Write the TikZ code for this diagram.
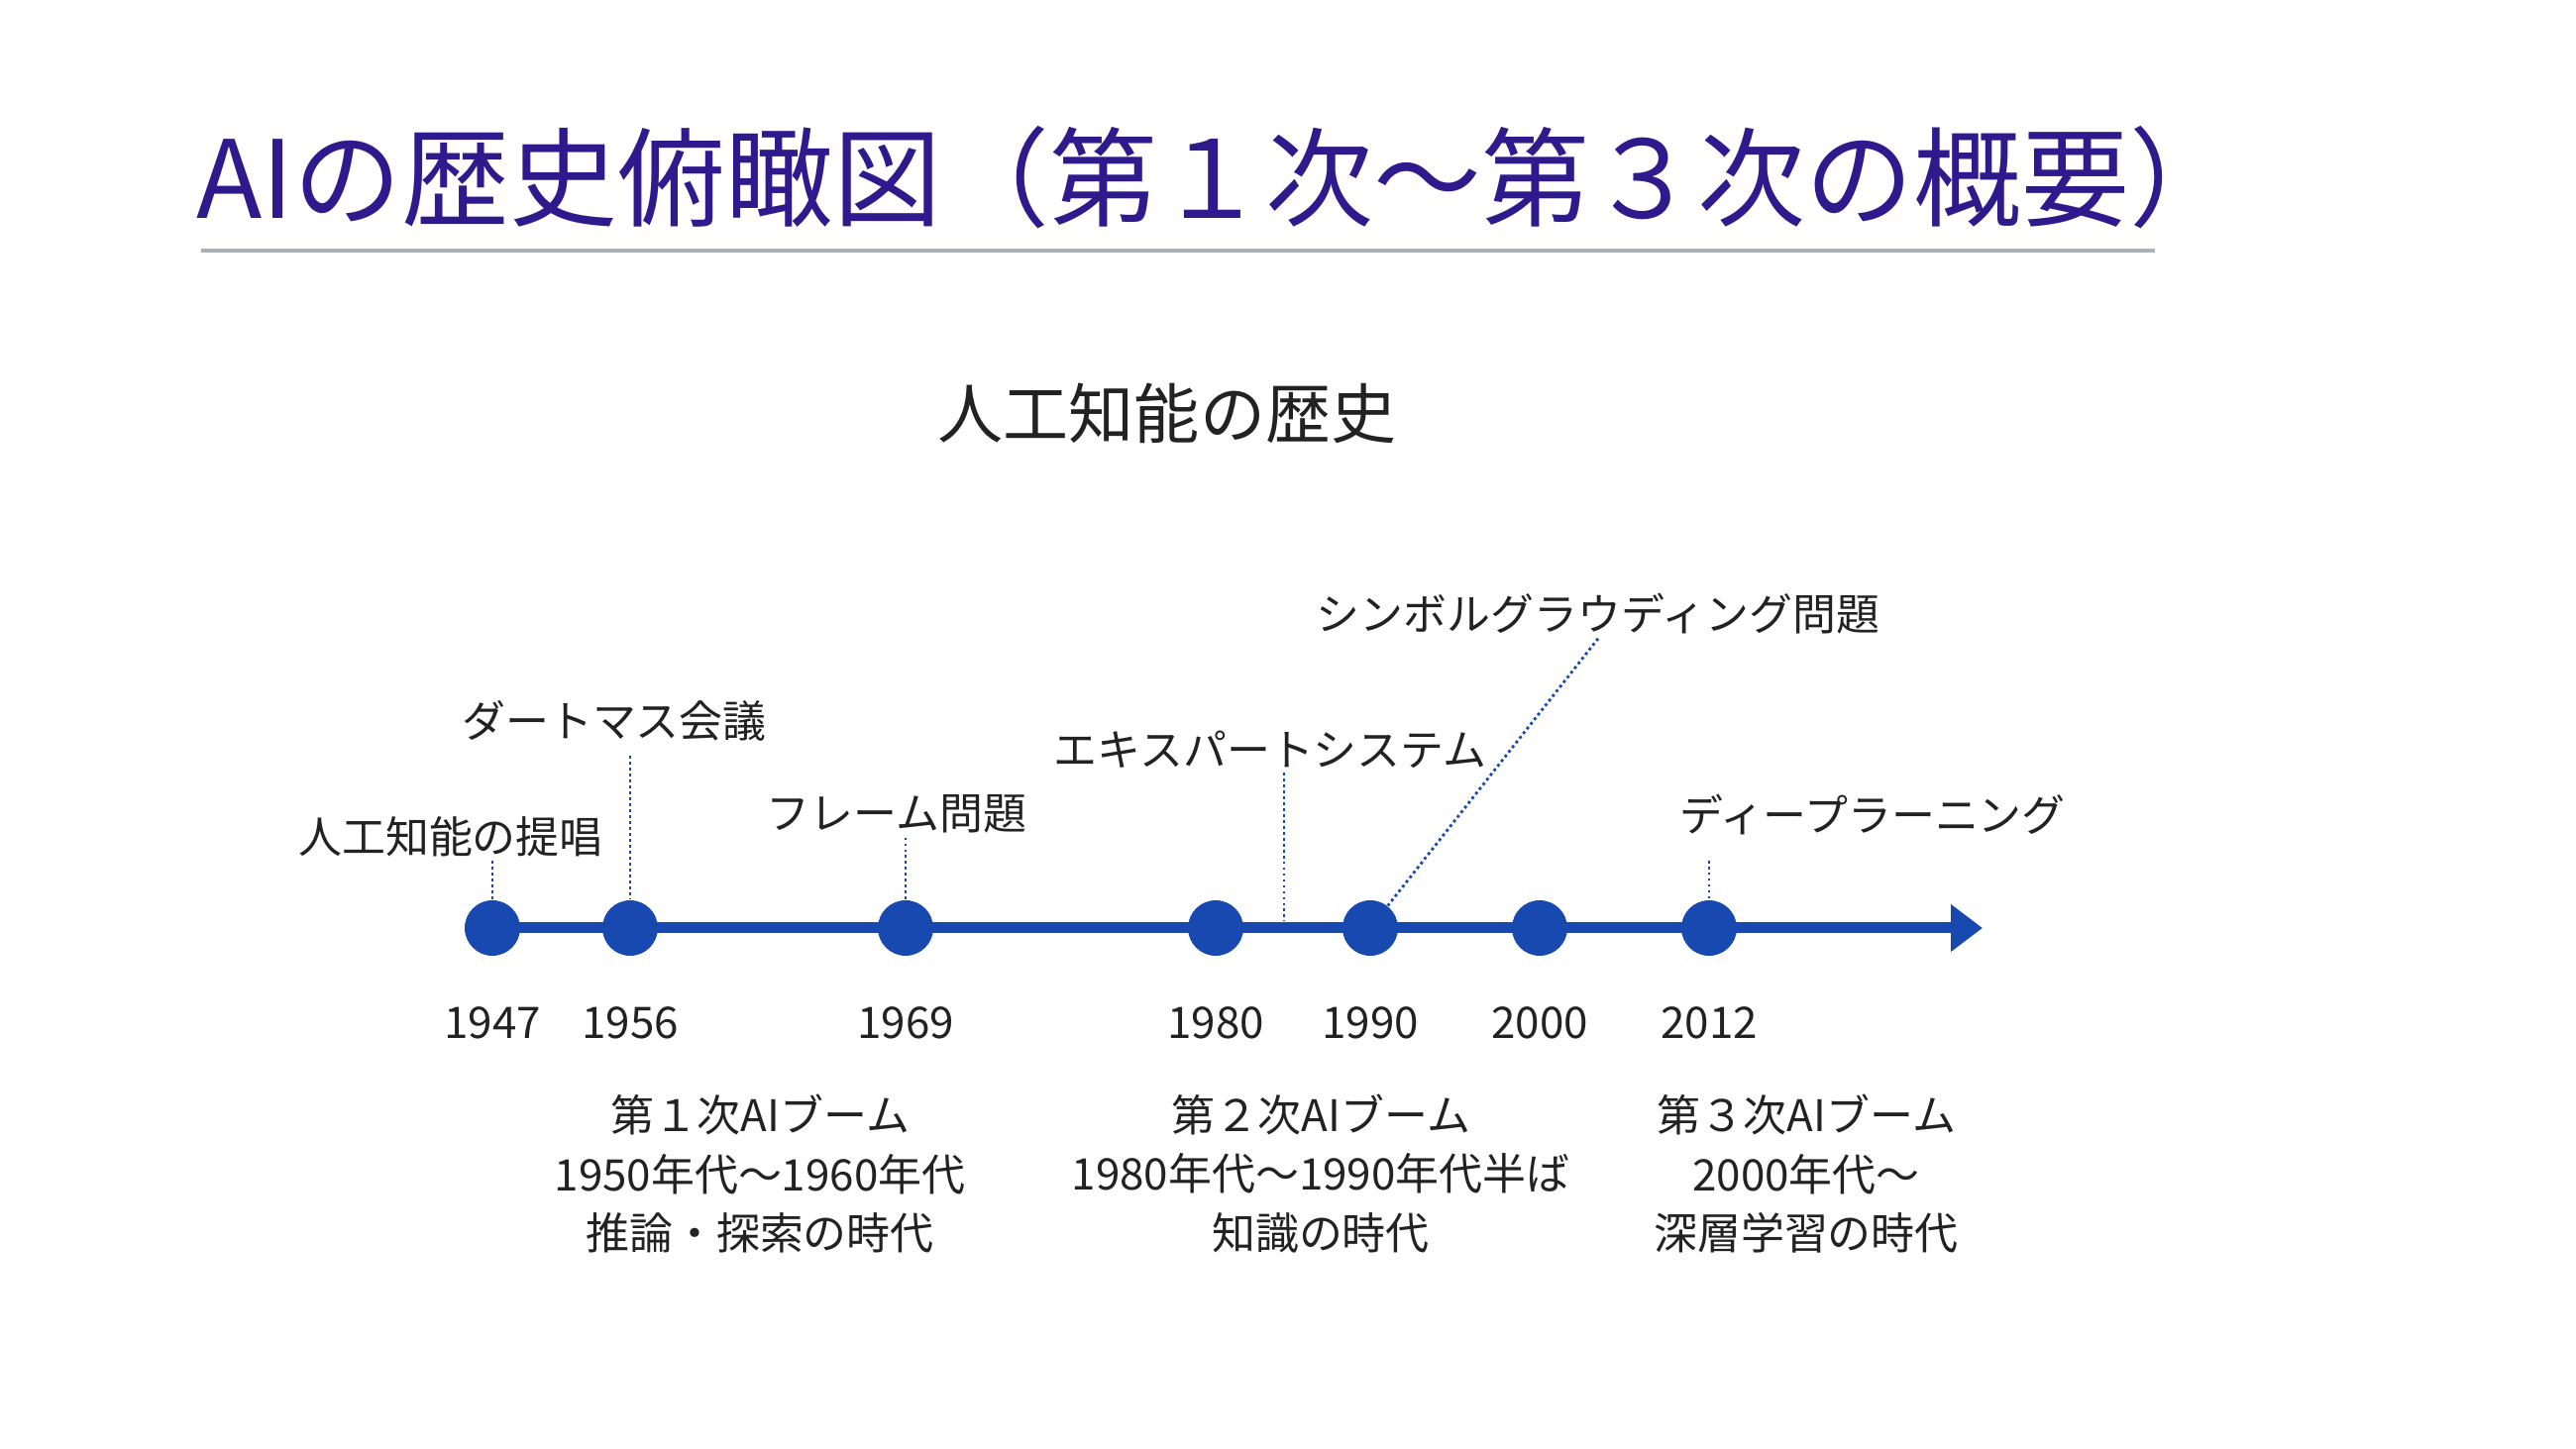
\documentclass[tikz,border=0pt]{standalone}
\usepackage{fontspec}
\setmainfont{Noto Sans CJK JP}
\usepackage{xcolor}
\usepackage{tikz}
\usetikzlibrary{arrows.meta}
\usetikzlibrary{calc}
\definecolor{titleblue}{RGB}{46,26,140}
\definecolor{lineblue}{RGB}{23,73,176}
\definecolor{rulegray}{RGB}{168,176,184}
\definecolor{labelgray}{RGB}{34,34,34}
\tikzstyle{evdot}=[circle,fill=lineblue,inner sep=0pt,minimum size=5.6mm]
\tikzstyle{evlbl}=[text=labelgray,inner sep=1pt,font=\fontsize{12.5}{15}\selectfont]
\tikzstyle{boom}=[evlbl,align=center,font=\fontsize{12.5}{17}\selectfont]
\tikzstyle{leader}=[lineblue,line width=.8pt,dash pattern=on .8pt off .9pt]
\tikzstyle{axis}=[lineblue,line width=1.1mm,-{Triangle[length=3.2mm,width=4.6mm]}]

\begin{document}
\begin{tikzpicture}[x=0.1mm,y=-0.1mm]
	\useasboundingbox (0,0) rectangle (2600,1463);
	\node[text=titleblue,inner sep=0pt,anchor=west,font=\fontsize{31}{36}\selectfont] (title) at (198,179) {AIの歴史俯瞰図（第１次〜第３次の概要）};
	\draw[rulegray,line width=.9pt] (203,253) -- (2175,253);
	\node[evlbl,font=\fontsize{18.8}{22}\selectfont] (hist) at (1178,417) {人工知能の歴史};
	\foreach \yr/\x in {1947/497,1956/636,1969/914,1980/1227,1990/1383,2000/1554,2012/1725} {
		\node[evdot] (d\yr) at (\x,937) {};
		\node[evlbl] (y\yr) at (\x,1033) {\yr};
	}
	\coordinate (tip) at (2001,937);
	\draw[axis] (d1947.center) -- (tip);
	\coordinate (exptick) at (1296,930);
	\node[evlbl] (l1947) at (455,845) {人工知能の提唱};
	\node[evlbl] (l1956) at (620,728) {ダートマス会議};
	\node[evlbl] (l1969) at (905,822) {フレーム問題};
	\node[evlbl] (lexp) at (1282,757) {エキスパートシステム};
	\node[evlbl] (lsym) at (1613,620) {シンボルグラウディング問題};
	\node[evlbl] (l2012) at (1890,823) {ディープラーニング};
	\draw[leader] (d1947 |- l1947.south) -- (d1947.north);
	\draw[leader,shorten <=3pt] (d1956 |- l1956.south) -- (d1956.north);
	\draw[leader] (d1969 |- l1969.south) -- (d1969.north);
	\draw[leader] (exptick |- lexp.south) -- (exptick);
	\draw[leader] (lsym.south) -- (d1990);
	\draw[leader,shorten <=6pt] (d2012 |- l2012.south) -- (d2012.north);
	\node[boom] (boom1) at (767,1185) {第１次AIブーム\\1950年代〜1960年代\\推論・探索の時代};
	\node[boom] (boom2) at (1333,1185) {第２次AIブーム\\1980年代〜1990年代半ば\\知識の時代};
	\node[boom] (boom3) at (1823,1185) {第３次AIブーム\\2000年代〜\\深層学習の時代};
\end{tikzpicture}
\end{document}
